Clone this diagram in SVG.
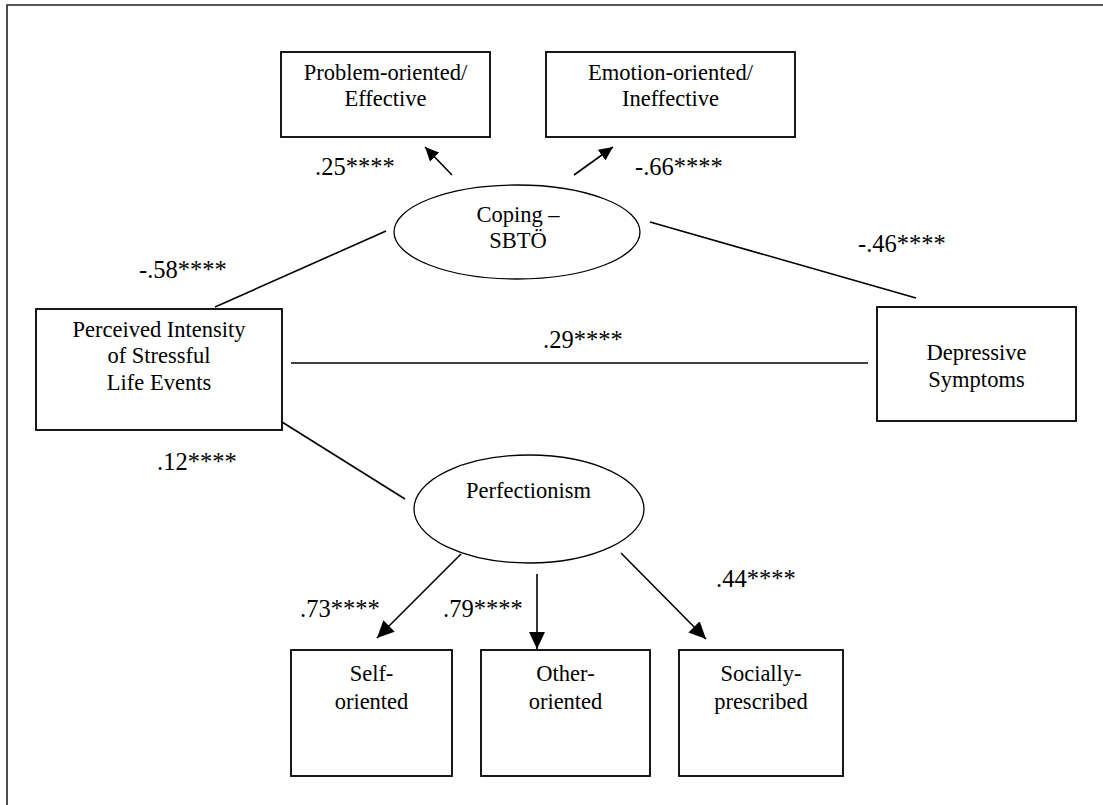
<svg xmlns="http://www.w3.org/2000/svg" width="1103" height="805" viewBox="0 0 1103 805">
  <style>
    .frame { fill: none; stroke: #222; stroke-width: 1.6; }
    .box { fill: #fff; stroke: #000; stroke-width: 1.8; }
    .ell { fill: #fff; stroke: #000; stroke-width: 1.3; }
    .edge { fill: none; stroke: #000; stroke-width: 1.6; }
    .c { text-anchor: middle; }
  </style>
  <defs>
    <marker id="headL" markerUnits="userSpaceOnUse" markerWidth="17" markerHeight="16" refX="17" refY="8" orient="auto">
      <path d="M0,0 L17,8 L0,16 z" fill="#000"/>
    </marker>
    <marker id="headS" markerUnits="userSpaceOnUse" markerWidth="14" markerHeight="13" refX="14" refY="6.5" orient="auto">
      <path d="M0,0 L14,6.5 L0,13 z" fill="#000"/>
    </marker>
  </defs>
  <rect width="1103" height="805" fill="#fff"/>
  <!-- page frame -->
  <path class="frame" d="M7,805 V5 H1103"/>

  <!-- connectors -->
  <g id="connectors">
    <line class="edge" x1="452" y1="175" x2="425" y2="147" marker-end="url(#headS)"/>
    <line class="edge" x1="574" y1="175" x2="613" y2="147" marker-end="url(#headS)"/>
    <line class="edge" x1="215" y1="307" x2="386" y2="231"/>
    <line class="edge" x1="650" y1="222" x2="916" y2="298"/>
    <line class="edge" x1="291" y1="363" x2="868" y2="363"/>
    <line class="edge" x1="282" y1="422" x2="405" y2="499"/>
    <line class="edge" x1="461" y1="554" x2="377" y2="638" marker-end="url(#headL)"/>
    <line class="edge" x1="537" y1="574" x2="537" y2="649" marker-end="url(#headL)"/>
    <line class="edge" x1="621" y1="553" x2="706" y2="639" marker-end="url(#headL)"/>
  </g>

  <g font-family="'Liberation Serif', 'DejaVu Serif', serif" font-size="22.5" fill="#000">
    <!-- path coefficients -->
    <g id="coefficients" font-size="24.5">
      <text x="315" y="175">.25****</text>
      <text x="635" y="175">-.66****</text>
      <text x="139" y="278">-.58****</text>
      <text x="858" y="252">-.46****</text>
      <text x="543" y="348">.29****</text>
      <text x="157" y="470">.12****</text>
      <text x="300" y="617">.73****</text>
      <text x="443" y="617">.79****</text>
      <text x="716" y="587">.44****</text>
    </g>

    <g id="problem-oriented">
      <rect class="box" x="281" y="52" width="209" height="85"/>
      <text class="c" x="385.5" y="80">Problem-oriented/</text>
      <text class="c" x="385.5" y="106">Effective</text>
    </g>

    <g id="emotion-oriented">
      <rect class="box" x="546" y="52" width="249" height="85"/>
      <text class="c" x="670.5" y="80">Emotion-oriented/</text>
      <text class="c" x="670.5" y="106">Ineffective</text>
    </g>

    <g id="coping">
      <ellipse class="ell" cx="517" cy="232" rx="123" ry="47"/>
      <text class="c" x="518" y="222">Coping –</text>
      <text class="c" x="518" y="248">SBTÖ</text>
    </g>

    <g id="stressful-life-events">
      <rect class="box" x="36" y="309" width="246" height="121"/>
      <text class="c" x="159" y="337">Perceived Intensity</text>
      <text class="c" x="159" y="363">of Stressful</text>
      <text class="c" x="159" y="390">Life Events</text>
    </g>

    <g id="depressive-symptoms">
      <rect class="box" x="877" y="307" width="199" height="114"/>
      <text class="c" x="976.5" y="360">Depressive</text>
      <text class="c" x="976.5" y="387">Symptoms</text>
    </g>

    <g id="perfectionism">
      <ellipse class="ell" cx="529" cy="509" rx="115" ry="54"/>
      <text class="c" x="528.5" y="498">Perfectionism</text>
    </g>

    <g id="self-oriented">
      <rect class="box" x="291" y="650" width="161" height="126"/>
      <text class="c" x="371.5" y="681">Self-</text>
      <text class="c" x="371.5" y="709">oriented</text>
    </g>

    <g id="other-oriented">
      <rect class="box" x="481" y="650" width="169" height="126"/>
      <text class="c" x="565.5" y="681">Other-</text>
      <text class="c" x="565.5" y="709">oriented</text>
    </g>

    <g id="socially-prescribed">
      <rect class="box" x="679" y="650" width="164" height="126"/>
      <text class="c" x="761" y="681">Socially-</text>
      <text class="c" x="761" y="709">prescribed</text>
    </g>
  </g>
</svg>
